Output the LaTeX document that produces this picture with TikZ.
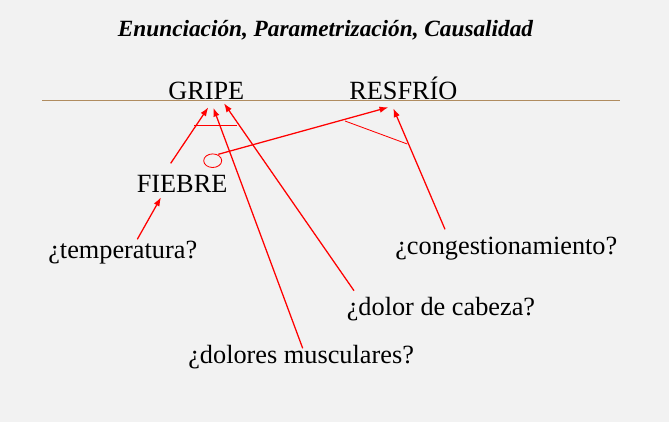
\documentclass[tikz,border=0pt]{standalone}
\usepackage{fontspec}
\setmainfont{Liberation Serif}
\usetikzlibrary{arrows.meta}
\definecolor{rule}{RGB}{176,140,96}
\definecolor{paper}{RGB}{242,242,242}
\tikzset{
  word/.style={anchor=base west, inner sep=0pt, font=\fontsize{18.7}{22}\selectfont},
  arr/.style={red, line width=0.9pt, -{Latex[length=2.2mm,width=1.6mm]}},
  tie/.style={red, line width=0.6pt}
}

\begin{document}
\begin{tikzpicture}[x=0.025cm, y=-0.025cm]
			%%%%% START %%%%%
			
			\fill[paper] (0, 0) rectangle (669, 422);
			\useasboundingbox (0, 0) rectangle (669, 422);
			
			\node[anchor=base, inner sep=0pt, font=\fontsize{16.55}{19}\selectfont\bfseries\itshape] (title) at (325.5, 36) {Enunciación, Parametrización, Causalidad};
			
			\draw[rule, line width=0.6pt] (42, 100) -- (620, 100);
			
			\node[word] (gripe) at (168, 99) {GRIPE};
			\node[word] (resfrio) at (349, 99) {RESFRÍO};
			\node[word] (fiebre) at (136.5, 192.5) {FIEBRE};
			\node[word] (temp) at (48, 258.5) {¿temperatura?};
			\node[word] (cong) at (395, 254) {¿congestionamiento?};
			\node[word] (cabeza) at (346.5, 315) {¿dolor de cabeza?};
			\node[word] (musc) at (188, 363) {¿dolores musculares?};
			
			% ends of the arrows
			\coordinate (g1) at (208.3, 107.3);
			\coordinate (g2) at (213.3, 107.7);
			\coordinate (g3) at (224, 103.3);
			\coordinate (r1) at (388.3, 107.3);
			\coordinate (r2) at (393.3, 108.3);
			\coordinate (f1) at (161, 197.3);
			\coordinate (t1) at (137.3, 239.3);
			\coordinate (f2) at (170.7, 163.3);
			\coordinate (m1) at (302.7, 348.3);
			\coordinate (c1) at (354, 290.7);
			\coordinate (n1) at (445, 229.3);
			
			\draw[tie] (212.7, 160.7) ellipse [x radius=0.225cm, y radius=0.17cm];
			\coordinate (loop) at (218.3, 154.3);
			
			\draw[arr] (t1) -- (f1);
			\draw[arr] (f2) -- (g1);
			\draw[arr] (m1) -- (g2);
			\draw[arr] (c1) -- (g3);
			\draw[arr] (loop) -- (r1);
			\draw[arr] (n1) -- (r2);
			
			\draw[tie] (194, 125.7) -- (236.7, 125.7);
			\draw[tie] (345, 121) -- (407.3, 144);
			
			%%%%% END %%%%%
		\end{tikzpicture}
\end{document}
